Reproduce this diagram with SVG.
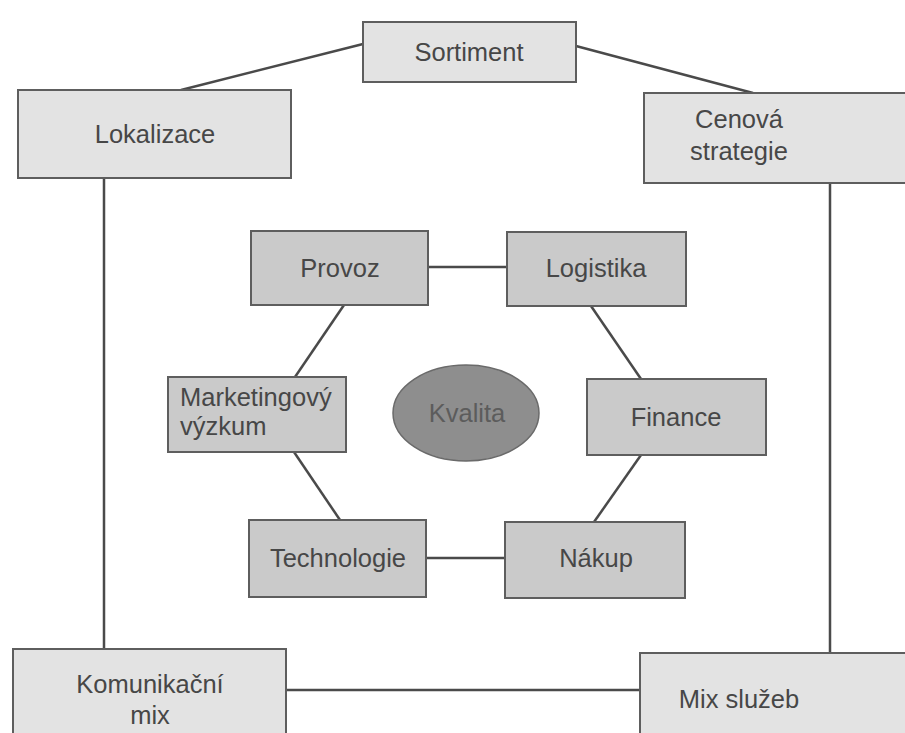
<svg xmlns="http://www.w3.org/2000/svg" width="905" height="733" viewBox="0 0 905 733">
  <style>
    .outer { fill: #e3e3e3; stroke: #5e5e5e; stroke-width: 2; }
    .inner { fill: #cacaca; stroke: #5e5e5e; stroke-width: 2; }
    .core { fill: #8e8e8e; stroke: #6a6a6a; stroke-width: 1.5; }
    .lbl { font-family: "Liberation Sans", Arial, sans-serif; font-size: 25.5px; fill: #474747; text-anchor: middle; }
    .left { text-anchor: start; }
    .dim { fill: #5c5c5c; }
    .links line { stroke: #4a4a4a; stroke-width: 2.5; }
  </style>
  <rect width="905" height="733" fill="#ffffff"/>

  <g class="links">
    <!-- outer ring -->
    <line x1="363" y1="44" x2="181" y2="90"/>
    <line x1="576" y1="46" x2="753" y2="93"/>
    <line x1="104" y1="178" x2="104" y2="649"/>
    <line x1="830" y1="183" x2="830" y2="653"/>
    <line x1="286" y1="690" x2="640" y2="690"/>
    <!-- inner ring -->
    <line x1="428" y1="267" x2="507" y2="267"/>
    <line x1="344" y1="305" x2="295" y2="377"/>
    <line x1="591" y1="306" x2="641" y2="379"/>
    <line x1="294" y1="452" x2="340" y2="520"/>
    <line x1="641" y1="455" x2="594" y2="522"/>
    <line x1="426" y1="558" x2="505" y2="558"/>
  </g>

  <g id="sortiment">
    <rect class="outer" x="363" y="22" width="213" height="60"/>
    <text class="lbl" x="469" y="61">Sortiment</text>
  </g>
  <g id="lokalizace">
    <rect class="outer" x="18" y="90" width="273" height="88"/>
    <text class="lbl" x="155" y="143">Lokalizace</text>
  </g>
  <g id="cenova-strategie">
    <rect class="outer" x="644" y="93" width="270" height="90"/>
    <text class="lbl" x="739" y="128">Cenová</text>
    <text class="lbl" x="739" y="160">strategie</text>
  </g>
  <g id="komunikacni-mix">
    <rect class="outer" x="13" y="649" width="273" height="95"/>
    <text class="lbl" x="150" y="693">Komunikační</text>
    <text class="lbl" x="150" y="724">mix</text>
  </g>
  <g id="mix-sluzeb">
    <rect class="outer" x="640" y="653" width="275" height="90"/>
    <text class="lbl" x="739" y="708">Mix služeb</text>
  </g>

  <g id="provoz">
    <rect class="inner" x="251" y="231" width="177" height="74"/>
    <text class="lbl" x="340" y="277">Provoz</text>
  </g>
  <g id="logistika">
    <rect class="inner" x="507" y="232" width="179" height="74"/>
    <text class="lbl" x="596" y="277">Logistika</text>
  </g>
  <g id="marketingovy-vyzkum">
    <rect class="inner" x="168" y="377" width="178" height="75"/>
    <text class="lbl left" x="180" y="406">Marketingový</text>
    <text class="lbl left" x="180" y="435">výzkum</text>
  </g>
  <g id="kvalita">
    <ellipse class="core" cx="466" cy="413" rx="73" ry="48"/>
    <text class="lbl dim" x="467" y="422">Kvalita</text>
  </g>
  <g id="finance">
    <rect class="inner" x="587" y="379" width="179" height="76"/>
    <text class="lbl" x="676" y="426">Finance</text>
  </g>
  <g id="technologie">
    <rect class="inner" x="249" y="520" width="177" height="77"/>
    <text class="lbl" x="338" y="567">Technologie</text>
  </g>
  <g id="nakup">
    <rect class="inner" x="505" y="522" width="180" height="76"/>
    <text class="lbl" x="596" y="567">Nákup</text>
  </g>
</svg>
